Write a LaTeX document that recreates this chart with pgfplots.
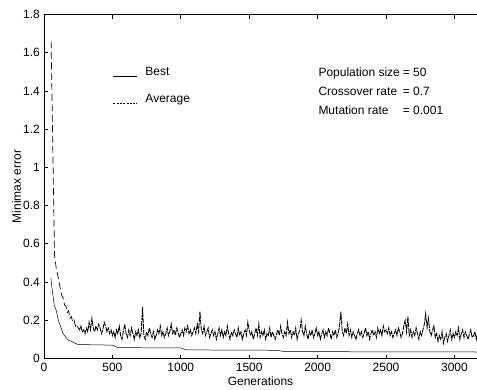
\documentclass[border=0pt]{standalone}
\usepackage{fontspec}
\setmainfont{Liberation Sans}
\usepackage{pgfplots}
\pgfplotsset{compat=1.18}
\begin{document}
\fontsize{12}{14}\selectfont
\begin{tikzpicture}
\begin{axis}[
  scale only axis,
  width=433pt, height=344pt,
  xmin=0, xmax=3165, ymin=0, ymax=1.8,
  axis x line*=box, axis y line*=left,
  y axis line style={-},
  axis line style={line width=0.9pt},
  xtick={0,500,...,3000},
  ytick={0,0.2,0.4,0.6,0.8,1,1.2,1.4,1.6,1.8},
  tick align=inside,
  major tick length=4pt,
  tick style={line width=0.8pt,black},
  /pgf/number format/1000 sep={},
  /pgf/number format/assume math mode=true,
  tick label style={font=\fontsize{12}{14}\selectfont},
  label style={font=\fontsize{12}{14}\selectfont},
  xlabel={Generations},
  ylabel={Minimax error},
  xlabel style={yshift=3pt},
  ylabel style={yshift=-6pt},
  legend style={draw=none, fill=none, at={(rel axis cs:0.152,0.86)}, anchor=north west,
    font=\fontsize{12}{14}\selectfont, row sep=13pt},
  legend cell align=left,
  legend image code/.code={\draw[#1] (0cm,-0.17cm) -- (0.85cm,-0.17cm); \path (1.05cm,0);},
]
\addplot[black, line width=0.5pt] table {
x y
50 0.42
60 0.36
75 0.28
90 0.25
105 0.20
120 0.17
140 0.13
160 0.11
180 0.095
200 0.09
220 0.082
250 0.073
500 0.070
540 0.057
1000 0.055
1040 0.045
1700 0.043
1760 0.036
3165 0.034
};
\addlegendentry{Best}
\addlegendimage{black, line width=0.6pt, dash pattern=on 2pt off 1.3pt}
\addlegendentry{Average}
\addplot[black, line width=0.7pt, dash pattern=on 7pt off 3.5pt, forget plot] table {
x y
52 1.66
77 0.54
90 0.47
105 0.42
118 0.37
130 0.33
143 0.31
150 0.28
160 0.275
170 0.24
180 0.25
190 0.21
200 0.22
210 0.19
220 0.20
230 0.17
240 0.18
250 0.16
};
\addplot[black, line width=0.85pt, dash pattern=on 5pt off 1pt, forget plot] table {
x y
250 0.16
260 0.15
270 0.17
280 0.14
290 0.15
300 0.13
310 0.16
320 0.14
330 0.19
340 0.15
350 0.21
360 0.16
370 0.14
380 0.17
390 0.15
400 0.18
410 0.16
420 0.13
430 0.15
440 0.19
450 0.17
460 0.14
470 0.16
480 0.13
490 0.15
500 0.12
510 0.14
520 0.11
530 0.15
540 0.13
550 0.17
560 0.12
570 0.10
580 0.14
590 0.18
600 0.13
610 0.11
620 0.15
630 0.12
640 0.16
650 0.13
660 0.10
670 0.14
680 0.12
690 0.15
700 0.11
710 0.13
720 0.27
730 0.12
740 0.10
750 0.14
760 0.12
770 0.16
780 0.13
790 0.11
800 0.14
810 0.10
820 0.12
830 0.15
840 0.13
850 0.17
860 0.12
870 0.14
880 0.11
890 0.13
900 0.16
910 0.12
920 0.14
930 0.18
940 0.13
950 0.15
960 0.12
970 0.16
980 0.14
990 0.11
1000 0.13
1010 0.15
1020 0.12
1030 0.16
1040 0.14
1050 0.17
1060 0.13
1070 0.15
1080 0.12
1090 0.14
1100 0.16
1110 0.13
1120 0.18
1130 0.14
1140 0.245
1150 0.15
1160 0.13
1170 0.17
1180 0.12
1190 0.14
1200 0.16
1210 0.11
1220 0.13
1230 0.15
1240 0.12
1250 0.14
1260 0.10
1270 0.13
1280 0.16
1290 0.12
1300 0.15
1310 0.11
1320 0.14
1330 0.12
1340 0.17
1350 0.13
1360 0.10
1370 0.14
1380 0.12
1390 0.15
1400 0.13
1410 0.11
1420 0.16
1430 0.12
1440 0.14
1450 0.10
1460 0.13
1470 0.15
1480 0.12
1490 0.19
1500 0.15
1510 0.12
1520 0.14
1530 0.10
1540 0.13
1550 0.16
1560 0.12
1570 0.18
1580 0.11
1590 0.14
1600 0.12
1610 0.15
1620 0.10
1630 0.13
1640 0.12
1650 0.16
1660 0.11
1670 0.14
1680 0.12
1690 0.10
1700 0.13
1710 0.15
1720 0.12
1730 0.17
1740 0.13
1750 0.11
1760 0.14
1770 0.12
1780 0.19
1790 0.13
1800 0.15
1810 0.11
1820 0.14
1830 0.12
1840 0.16
1850 0.10
1860 0.13
1870 0.15
1880 0.20
1890 0.14
1900 0.12
1910 0.17
1920 0.13
1930 0.10
1940 0.14
1950 0.12
1960 0.15
1970 0.11
1980 0.13
1990 0.16
2000 0.12
2010 0.14
2020 0.10
2030 0.13
2040 0.15
2050 0.11
2060 0.14
2070 0.12
2080 0.16
2090 0.13
2100 0.10
2110 0.14
2120 0.12
2130 0.15
2140 0.11
2150 0.13
2160 0.17
2170 0.245
2180 0.14
2190 0.12
2200 0.16
2210 0.13
2220 0.18
2230 0.12
2240 0.15
2250 0.11
2260 0.14
2270 0.12
2280 0.10
2290 0.13
2300 0.15
2310 0.12
2320 0.14
2330 0.11
2340 0.13
2350 0.16
2360 0.12
2370 0.14
2380 0.10
2390 0.13
2400 0.15
2410 0.12
2420 0.14
2430 0.11
2440 0.16
2450 0.13
2460 0.15
2470 0.12
2480 0.17
2490 0.14
2500 0.15
2510 0.13
2520 0.16
2530 0.12
2540 0.14
2550 0.11
2560 0.13
2570 0.15
2580 0.12
2590 0.16
2600 0.14
2610 0.11
2620 0.13
2630 0.17
2640 0.20
2650 0.14
2660 0.22
2670 0.12
2680 0.15
2690 0.11
2700 0.14
2710 0.12
2720 0.16
2730 0.13
2740 0.10
2750 0.14
2760 0.12
2770 0.15
2780 0.18
2790 0.235
2800 0.16
2810 0.21
2820 0.14
2830 0.12
2840 0.15
2850 0.17
2860 0.11
2870 0.13
2880 0.09
2890 0.12
2900 0.10
2910 0.14
2920 0.08
2930 0.11
2940 0.13
2950 0.09
2960 0.12
2970 0.15
2980 0.10
2990 0.13
3000 0.11
3010 0.14
3020 0.12
3030 0.16
3040 0.10
3050 0.13
3060 0.15
3070 0.11
3080 0.14
3090 0.12
3100 0.10
3110 0.13
3120 0.15
3130 0.11
3140 0.12
3150 0.14
3160 0.10
3165 0.12
};
\node[anchor=base west, inner sep=0pt, font=\fontsize{12}{14}\selectfont] at (axis cs:2005,1.474) {%
  \begin{tabular}[t]{@{}l@{\hspace{3pt}}l@{}}
  Population size & = 50\\[5pt]
  Crossover rate & = 0.7\\[5pt]
  Mutation rate & = 0.001
  \end{tabular}};
\end{axis}
\pgfresetboundingbox
\path[use as bounding box] ([xshift=-44pt,yshift=-30.5pt]current axis.south west) rectangle ([yshift=14.5pt]current axis.north east);
\end{tikzpicture}
\end{document}
